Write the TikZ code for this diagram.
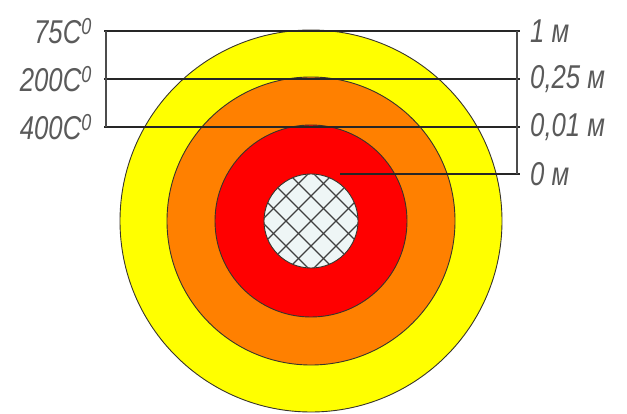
\documentclass[tikz,border=0pt]{standalone}
\usepackage{fontspec}
\setmainfont{Liberation Sans}
\usepackage{tikz}
\usetikzlibrary{positioning, calc}

\definecolor{ringyellow}{HTML}{FFFF00}
\definecolor{ringorange}{HTML}{FF8000}
\definecolor{ringred}{HTML}{FF0000}
\definecolor{coreblue}{HTML}{EEF6F6}
\definecolor{labgray}{HTML}{5A5A5A}

\tikzset{
  ring/.style={draw=black!80!olive, line width=0.9pt},
  level/.style={draw=black!85, line width=1.3pt},
  templab/.style={text=labgray, inner sep=0pt, anchor=east, font=\fontsize{33}{36}\selectfont\itshape},
  distlab/.style={text=labgray, inner sep=0pt, anchor=west, font=\fontsize{33}{36}\selectfont\itshape}
}
\newcommand{\narrow}[1]{\scalebox{0.78}[1]{#1}}

\begin{document}
\begin{tikzpicture}[x=1pt, y=-1pt]
  \useasboundingbox (0,0) rectangle (627,414);
  \coordinate (c) at (311,221);

  % Zones
  \filldraw[ring, fill=ringyellow] (c) circle (191pt);
  \filldraw[ring, fill=ringorange] (c) circle (144pt);
  \filldraw[ring, fill=ringred] (c) circle (96pt);
  \filldraw[ring, fill=coreblue] (c) circle (47pt);

  % Hachures du noyau
  \begin{scope}
    \clip (c) circle (47pt);
    \foreach \d in {-75,-50,...,75} {
      \draw[black!75, line width=1.1pt] ($(c)+(\d,0)+(-60,-60)$) -- ($(c)+(\d,0)+(60,60)$);
      \draw[black!75, line width=1.1pt] ($(c)+(\d,0)+(-60,60)$) -- ($(c)+(\d,0)+(60,-60)$);
    }
  \end{scope}

  % Niveaux
  \coordinate (l1) at (104,31);
  \coordinate (l2) at (104,79);
  \coordinate (l3) at (104,127);
  \coordinate (l4) at (340,174);
  \coordinate (r1) at (520,31);
  \coordinate (r2) at (520,79);
  \coordinate (r3) at (520,127);
  \coordinate (r4) at (520,174);
  \draw[level] (l1) -- (r1);
  \draw[level] (l2) -- (r2);
  \draw[level] (l3) -- (r3);
  \draw[level] (l4) -- (r4);

  % Cotes verticales
  \draw[draw=black!70, line width=1.3pt] ($(l1)+(2,0)$) -- ($(l3)+(2,0)$);
  \draw[draw=black!70, line width=1.3pt] ($(r1)+(-3,0)$) -- ($(r4)+(-3,0)$);

  % Temperatures
  \node[templab] (t75) at ($(l1)+(-12,0)$) {\narrow{75C\textsuperscript{0}}};
  \node[templab] (t200) at ($(l2)+(-12,0)$) {\narrow{200C\textsuperscript{0}}};
  \node[templab] (t400) at ($(l3)+(-12,0)$) {\narrow{400C\textsuperscript{0}}};

  % Distances
  \node[distlab] (d1) at ($(r1)+(10,0)$) {\narrow{1 м}};
  \node[distlab] (d2) at ($(r2)+(10,0)$) {\narrow{0,25 м}};
  \node[distlab] (d3) at ($(r3)+(10,0)$) {\narrow{0,01 м}};
  \node[distlab] (d4) at ($(r4)+(10,0)$) {\narrow{0 м}};
\end{tikzpicture}
\end{document}
